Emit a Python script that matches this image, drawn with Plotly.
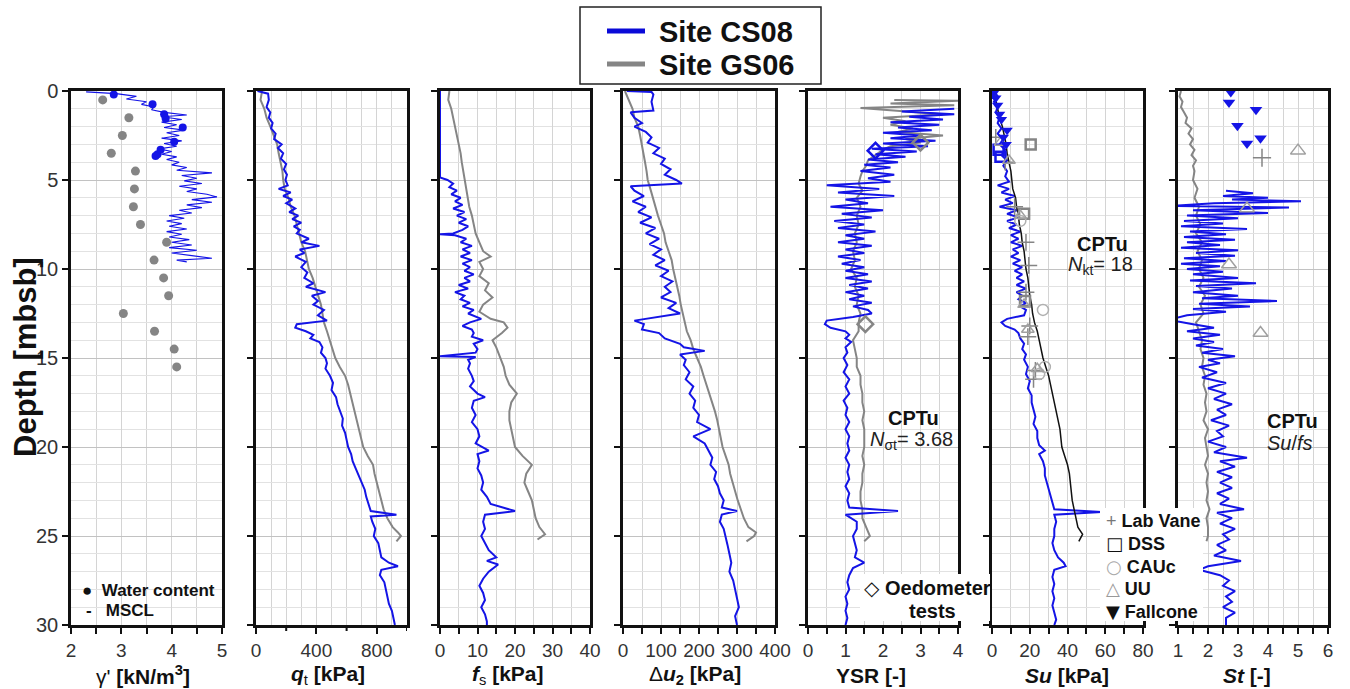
import plotly.graph_objects as go

W, H = 1350, 689
BLUE = "#1414e6"
GRAY = "#858585"
FONT = "Liberation Sans"

# ---------------- data ----------------
# gamma' (MSCL, CS08)
gam_d = [0.05, 0.15, 0.3, 0.45, 0.6, 0.75, 0.9, 1.05, 1.2, 1.35, 1.45, 1.6, 1.75, 1.9, 2.05, 2.2, 2.35, 2.5,
         2.65, 2.8, 2.95, 3.1, 3.25, 3.4, 3.55, 3.7, 3.85, 4.0, 4.15, 4.3, 4.45, 4.6, 4.75, 4.9, 5.05, 5.2,
         5.35, 5.5, 5.65, 5.8, 5.95, 6.1, 6.25, 6.4, 6.55, 6.7, 6.85, 7.0, 7.15, 7.3, 7.45, 7.6, 7.75, 7.9,
         8.05, 8.2, 8.35, 8.5, 8.65, 8.8, 8.95, 9.1, 9.25, 9.4, 9.5, 9.6]
gam_v = [2.3, 2.9, 3.3, 3.1, 3.5, 3.4, 3.65, 3.6, 3.85, 4.3, 3.8, 4.2, 3.8, 4.1, 3.85, 4.25, 3.9, 4.15,
         3.8, 4.2, 3.85, 4.1, 3.75, 4.0, 3.8, 4.1, 3.9, 4.15, 4.0, 4.3, 4.1, 4.8, 4.2, 4.5, 4.25, 4.6,
         4.15, 4.5, 4.3, 4.7, 4.9, 4.4, 4.8, 4.3, 4.6, 4.15, 4.4, 3.95, 4.25, 3.9, 4.2, 3.95, 4.3, 3.9,
         4.2, 3.95, 4.35, 4.0, 4.4, 3.95, 4.5, 4.0, 4.4, 4.8, 4.1, 4.3]
wc_gs_d = [0.5, 1.5, 2.5, 3.5, 4.5, 5.5, 6.5, 7.5, 8.5, 9.5, 10.5, 11.5, 12.5, 13.5, 14.5, 15.5]
wc_gs_v = [2.63, 3.15, 3.02, 2.8, 3.28, 3.26, 3.24, 3.38, 3.9, 3.65, 3.84, 3.94, 3.04, 3.66, 4.05, 4.1]
wc_cs_d = [0.2, 0.75, 1.3, 1.55, 2.05, 2.85, 3.3, 3.55, 3.65]
wc_cs_v = [2.85, 3.62, 3.85, 3.88, 4.22, 4.05, 3.78, 3.72, 3.68]

# q_t
qt_cs_d = [0.0, 0.15, 0.5, 0.9, 1.2, 1.5, 1.8, 2.1, 2.4, 2.7, 3.0, 3.2, 3.5, 3.8, 4.1, 4.4, 4.7, 5.0, 5.3,
           5.5, 5.7, 5.9, 6.1, 6.3, 6.6, 6.8, 7.0, 7.2, 7.4, 7.6, 7.8, 8.0, 8.3, 8.5, 8.7, 8.9, 9.1, 9.3,
           9.6, 9.9, 10.2, 10.5, 10.8, 11.0, 11.3, 11.5, 11.8, 12.0, 12.3, 12.6, 12.9, 13.1, 13.3, 13.5,
           13.7, 13.9, 14.1, 14.4, 14.7, 15.0, 15.3, 15.6, 16.0, 16.4, 16.8, 17.2, 17.6, 18.0, 18.4, 18.8,
           19.2, 19.6, 20.0, 20.4, 20.8, 21.2, 21.6, 22.0, 22.4, 22.8, 23.2, 23.6, 23.8, 23.9, 24.2, 24.6,
           25.0, 25.4, 25.8, 26.2, 26.5, 26.7, 26.9, 27.2, 27.6, 28.0, 28.4, 28.8, 29.2, 29.6, 30.0]
qt_cs_v = [10, 80, 85, 70, 95, 85, 110, 100, 130, 120, 170, 145, 180, 165, 200, 185, 205, 195, 210,
           150, 230, 180, 240, 200, 260, 220, 280, 240, 300, 250, 290, 270, 350, 300, 420, 290, 320, 260,
           330, 300, 340, 320, 380, 330, 460, 370, 410, 380, 450, 410, 470, 270, 260, 330,
           380, 360, 420, 440, 430, 460, 470, 460, 490, 510, 500, 530, 540, 555, 575, 570,
           590, 600, 610, 630, 640, 660, 680, 700, 720, 730, 745, 760, 930, 760, 770, 790,
           780, 810, 820, 830, 880, 940, 830, 820, 850, 860, 870, 880, 900, 910, 920]
qt_gs_d = [0.0, 0.5, 1.0, 1.5, 2.0, 2.5, 3.0, 3.5, 4.0, 4.5, 5.0, 5.5, 6.0, 6.5, 7.0, 7.5, 8.0, 8.5, 9.0,
           9.5, 10.0, 10.5, 11.0, 11.5, 12.0, 12.5, 13.0, 13.5, 14.0, 14.5, 15.0, 15.5, 16.0, 16.5, 17.0,
           17.5, 18.0, 18.5, 19.0, 19.5, 20.0, 20.5, 21.0, 21.5, 22.0, 22.5, 23.0, 23.5, 24.0, 24.5, 24.8,
           25.0, 25.3]
qt_gs_v = [40, 30, 55, 70, 95, 120, 140, 150, 165, 175, 180, 190, 215, 230, 255, 270, 290, 300, 325,
           335, 350, 375, 395, 410, 430, 440, 450, 470, 490, 510, 525, 555, 590, 610, 625,
           640, 655, 670, 685, 700, 710, 740, 775, 785, 800, 815, 830, 845, 870, 905, 940,
           960, 930]

# f_s
fs_cs_d = [0.0, 4.85, 5.0, 5.2, 5.4, 5.6, 5.8, 6.0, 6.2, 6.4, 6.6, 6.8, 7.0, 7.2, 7.4, 7.6, 7.8, 8.0,
           8.05, 8.1, 8.3, 8.5, 8.7, 8.9, 9.1, 9.3, 9.5, 9.7, 9.9, 10.1, 10.3, 10.5, 10.7, 10.9, 11.1,
           11.3, 11.5, 11.7, 11.9, 12.1, 12.3, 12.5, 12.8, 13.0, 13.2, 13.4, 13.6, 13.8, 14.0, 14.2, 14.5,
           14.7, 14.9, 14.95, 15.1, 15.3, 15.6, 16.0, 16.3, 16.6, 17.0, 17.2, 17.4, 17.8, 18.2, 18.6,
           19.0, 19.4, 19.8, 20.2, 20.4, 20.8, 21.2, 21.6, 22.0, 22.4, 22.8, 23.2, 23.6, 23.8, 24.2, 24.6,
           25.0, 25.4, 25.8, 26.2, 26.4, 26.6, 27.0, 27.4, 27.8, 28.2, 28.6, 29.0, 29.4, 29.8, 30.0]
fs_cs_v = [0, 0, 2, 3.5, 2.5, 4.5, 3, 5.5, 4, 6, 3.5, 6.5, 4.5, 7, 5, 7.5, 6, 3.5,
           0, 4, 7, 5.5, 8.5, 6, 8, 5.5, 8.5, 6, 8, 6.5, 9, 6.5, 8, 5, 7.5,
           4, 6.5, 5.5, 8, 6, 9, 7.5, 11, 8, 6, 8.5, 9, 8.5, 11.5, 9, 10,
           9.5, 0, 9.5, 7.5, 8, 7.5, 8.5, 9, 8, 10, 12, 9, 8.5, 9.5, 8.5,
           10, 10.5, 9.5, 13, 10, 10.5, 10, 11, 11.5, 11, 12.5, 13.5, 20, 12, 11.5, 12,
           11, 12, 13, 15, 12.5, 15.5, 13, 11.5, 10.5, 11.5, 12, 11, 12, 12.5, 12.5]
fs_gs_d = [0.0, 0.5, 1.0, 1.5, 2.0, 2.5, 3.0, 3.5, 4.0, 4.5, 5.0, 5.5, 6.0, 6.5, 7.0, 7.5, 8.0, 8.5, 9.0,
           9.3, 9.6, 10.0, 10.4, 10.8, 11.2, 11.6, 12.0, 12.4, 12.8, 13.0, 13.3, 13.6, 14.0, 14.4, 15.0,
           15.5, 16.0, 16.5, 17.0, 17.5, 18.0, 18.5, 19.0, 19.5, 20.0, 20.5, 21.0, 21.5, 22.0, 22.5, 23.0,
           23.5, 24.0, 24.5, 24.9, 25.2]
fs_gs_v = [2.5, 2.2, 3.0, 3.5, 4.0, 4.5, 5.0, 5.5, 5.8, 6.2, 6.5, 7.0, 7.3, 7.8, 8.5, 9.0, 9.5, 10.5, 11.5,
           13.5, 10.5, 11.5, 10.5, 13, 12, 14, 11.5, 10.5, 13.5, 17, 18, 16.5, 14, 15, 16,
           17, 17.5, 18.5, 20.5, 19, 18.5, 18.5, 19, 19.5, 20, 22, 24.5, 23, 22.5, 23.5, 24.5,
           25, 25.5, 26.5, 28, 26]

# delta u2
du_cs_d = [0.0, 0.05, 0.2, 0.6, 1.1, 1.2, 1.5, 1.8, 2.0, 2.3, 2.6, 2.9, 3.2, 3.5, 3.8, 4.1, 4.4, 4.7, 5.0,
           5.2, 5.35, 5.6, 5.9, 6.2, 6.5, 6.8, 7.1, 7.4, 7.7, 8.0, 8.3, 8.6, 8.9, 9.2, 9.5, 9.8, 10.1,
           10.4, 10.7, 11.0, 11.3, 11.6, 11.9, 12.2, 12.5, 12.7, 12.9, 13.1, 13.4, 13.6, 13.9, 14.2, 14.4,
           14.6, 14.8, 15.1, 15.4, 15.8, 16.2, 16.6, 17.0, 17.4, 17.8, 18.2, 18.6, 19.0, 19.4, 19.8, 20.2,
           20.6, 21.0, 21.4, 21.8, 22.2, 22.6, 23.0, 23.4, 23.6, 23.8, 24.2, 24.6, 25.0, 25.5, 26.0, 26.5,
           27.0, 27.5, 28.0, 28.5, 29.0, 29.5, 30.0]
du_cs_v = [10, 75, 80, 75, 80, 20, 30, 50, 30, 60, 75, 65, 95, 80, 110, 100, 125, 110, 140,
           155, 20, 30, 55, 25, 60, 40, 75, 45, 85, 60, 95, 70, 100, 80, 110, 85, 120,
           100, 130, 110, 125, 100, 140, 120, 150, 90, 30, 55, 50, 95, 110, 150, 160,
           215, 150, 165, 160, 175, 165, 185, 175, 190, 185, 200, 195, 230, 185, 215, 225,
           235, 230, 245, 240, 250, 255, 265, 260, 300, 260, 255, 265, 270, 275, 280, 285,
           280, 290, 295, 300, 305, 295, 300]
du_gs_d = [0.0, 0.5, 1.0, 1.5, 2.0, 2.5, 3.0, 3.5, 4.0, 4.5, 5.0, 5.5, 6.0, 6.5, 7.0, 7.5, 8.0, 8.5, 9.0,
           9.5, 10.0, 10.5, 11.0, 11.5, 12.0, 12.5, 13.0, 13.5, 14.0, 14.5, 15.0, 15.5, 16.0, 16.5, 17.0,
           17.5, 18.0, 18.5, 19.0, 19.5, 20.0, 20.5, 21.0, 21.5, 22.0, 22.5, 23.0, 23.5, 24.0, 24.5, 24.8,
           25.0, 25.3]
du_gs_v = [5, 15, 25, 30, 40, 45, 50, 55, 58, 62, 65, 72, 78, 85, 92, 100, 108, 112, 120,
           128, 132, 138, 142, 148, 152, 158, 162, 168, 178, 185, 195, 205, 212, 220, 228,
           235, 242, 248, 252, 258, 262, 270, 278, 282, 288, 295, 302, 310, 318, 330, 350,
           345, 325]

# YSR
ysr_cs_d = [1.0, 1.15, 1.3, 1.45, 1.6, 1.75, 1.9, 2.05, 2.2, 2.35, 2.5, 2.65, 2.8, 2.95, 3.1, 3.25, 3.4,
            3.55, 3.7, 3.85, 4.0, 4.15, 4.3, 4.5, 4.7, 4.9, 5.1, 5.3, 5.5, 5.7, 5.9, 6.1, 6.3, 6.5, 6.7,
            6.9, 7.1, 7.3, 7.5, 7.7, 7.9, 8.1, 8.3, 8.5, 8.7, 8.9, 9.1, 9.3, 9.5, 9.7, 9.9, 10.1, 10.3,
            10.5, 10.7, 10.9, 11.1, 11.3, 11.5, 11.7, 11.9, 12.1, 12.3, 12.5, 12.7, 12.9, 13.1, 13.3, 13.5,
            13.7, 13.9, 14.1, 14.4, 14.7, 15.0, 15.4, 15.8, 16.2, 16.6, 17.0, 17.4, 17.8, 18.2, 18.6, 19.0,
            19.4, 19.8, 20.2, 20.6, 21.0, 21.4, 21.8, 22.2, 22.6, 23.0, 23.4, 23.6, 23.8, 24.2, 24.6, 25.0,
            25.4, 25.8, 26.2, 26.5, 26.8, 27.2, 27.6, 28.0, 28.4, 28.8, 29.2, 29.6, 30.0]
ysr_cs_v = [3.9, 2.5, 3.9, 2.7, 3.6, 2.2, 3.5, 2.4, 3.3, 2.0, 3.0, 2.2, 3.4, 2.0, 3.2, 1.7, 2.9,
            1.8, 2.6, 1.6, 2.4, 1.5, 2.2, 1.4, 2.3, 1.6, 2.2, 0.5, 1.9, 0.8, 2.3, 1.0, 1.6, 0.6, 2.0,
            0.9, 1.7, 0.7, 1.5, 0.8, 1.8, 1.0, 1.5, 0.8, 1.7, 1.0, 1.5, 0.8, 1.4, 0.9, 1.5, 1.0, 1.6,
            1.0, 1.7, 1.1, 1.6, 1.0, 1.5, 1.1, 1.7, 1.2, 1.6, 1.7, 1.2, 0.5, 0.45, 0.6, 1.0,
            1.1, 1.0, 1.15, 1.0, 1.05, 0.95, 1.05, 0.95, 1.1, 1.0, 1.1, 0.95, 1.05, 1.0, 1.1, 1.0,
            1.1, 1.05, 1.1, 1.0, 1.1, 1.05, 1.1, 1.0, 1.1, 1.05, 1.1, 2.4, 1.0, 1.3, 1.3, 1.2,
            1.25, 1.3, 1.25, 1.5, 1.2, 1.1, 1.05, 1.1, 1.0, 1.05, 1.0, 1.05, 1.0]
ysr_gs_d = [0.5, 0.55, 0.7, 0.8, 0.95, 1.1, 1.3, 1.5, 1.7, 1.9, 2.1, 2.3, 2.5, 2.7, 2.9, 3.1, 3.3, 3.6,
            3.9, 4.2, 4.5, 4.8, 5.2, 5.6, 6.0, 6.5, 7.0, 7.5, 8.0, 8.5, 9.0, 9.5, 10.0, 10.5, 11.0, 11.5,
            12.0, 12.5, 13.0, 13.5, 14.0, 14.5, 15.0, 15.5, 16.0, 16.5, 17.0, 17.5, 18.0, 18.5, 19.0, 19.5,
            20.0, 20.5, 21.0, 21.5, 22.0, 22.5, 23.0, 23.5, 24.0, 24.5, 25.0, 25.3]
ysr_gs_v = [2.3, 4.0, 2.2, 3.9, 1.4, 2.3, 3.6, 2.0, 2.6, 2.2, 2.8, 2.4, 3.6, 2.6, 3.0, 2.2, 2.0, 1.8,
            1.6, 1.55, 1.45, 1.4, 1.35, 1.45, 1.3, 1.4, 1.3, 1.35, 1.25, 1.3, 1.2, 1.25, 1.15, 1.3, 1.25, 1.35,
            1.3, 1.4, 1.35, 1.35, 1.2, 1.25, 1.3, 1.3, 1.4, 1.4, 1.45, 1.45, 1.5, 1.45, 1.5, 1.5,
            1.5, 1.45, 1.5, 1.45, 1.45, 1.4, 1.4, 1.45, 1.45, 1.55, 1.65, 1.5]
oed_cs_d = [3.35]
oed_cs_v = [1.8]
oed_gs_d = [2.9, 13.1]
oed_gs_v = [3.0, 1.53]

# Su
su_cs_d = [0.0, 0.3, 0.6, 0.9, 1.2, 1.5, 1.8, 2.1, 2.4, 2.7, 3.0, 3.3, 3.6, 3.9, 4.2, 4.5, 4.8, 5.1, 5.3,
           5.5, 5.7, 5.9, 6.1, 6.3, 6.5, 6.7, 6.9, 7.1, 7.3, 7.5, 7.7, 7.9, 8.1, 8.3, 8.5, 8.7, 8.9, 9.1,
           9.3, 9.5, 9.7, 9.9, 10.1, 10.3, 10.5, 10.7, 10.9, 11.1, 11.3, 11.5, 11.7, 11.9, 12.1, 12.3, 12.6,
           12.8, 13.0, 13.2, 13.4, 13.6, 13.9, 14.2, 14.5, 14.8, 15.1, 15.5, 15.9, 16.3, 16.7, 17.1, 17.5,
           17.9, 18.3, 18.7, 19.1, 19.5, 19.9, 20.2, 20.4, 20.8, 21.2, 21.6, 22.0, 22.4, 22.8, 23.2, 23.5,
           23.65, 23.8, 24.2, 24.6, 25.0, 25.4, 25.8, 26.2, 26.5, 26.7, 26.9, 27.3, 27.7, 28.1, 28.5, 28.9,
           29.3, 29.7, 30.0]
su_cs_v = [1, 3, 1, 3, 2, 4, 3, 5, 3, 6, 4, 7, 5, 8, 6, 8, 7, 9, 3,
           9, 5, 12, 7, 11, 4, 13, 8, 14, 8, 13, 9, 15, 10, 14, 10, 16, 11, 14,
           10, 15, 11, 16, 12, 16, 13, 17, 13, 18, 13, 16, 14, 18, 15, 18, 17,
           8, 5, 7, 12, 14, 15, 17, 16, 18, 17, 19, 18, 20, 19, 21, 21,
           22, 23, 22, 24, 24, 25, 28, 25, 27, 28, 28, 29, 30, 31, 32, 33,
           58, 33, 34, 33, 33, 32, 33, 35, 38, 39, 33, 32, 33, 32, 33, 32,
           33, 34, 33]
su_gs_d = [0.0, 0.5, 1.0, 1.5, 2.0, 2.5, 3.0, 3.5, 4.0, 4.5, 5.0, 5.5, 6.0, 6.5, 7.0, 7.5, 8.0, 8.5, 9.0,
           9.5, 10.0, 10.5, 11.0, 11.5, 12.0, 12.5, 13.0, 13.5, 14.0, 14.5, 15.0, 15.5, 16.0, 16.5, 17.0,
           17.5, 18.0, 18.5, 19.0, 19.5, 20.0, 20.5, 21.0, 21.5, 22.0, 22.5, 23.0, 23.5, 24.0, 24.5, 24.9,
           25.3]
su_gs_v = [1, 2, 3, 4, 5.5, 6.5, 7.5, 8, 9, 10, 10.5, 11, 12.5, 13, 14, 14.5, 15.5, 16, 17,
           17.5, 18, 19, 19.5, 20, 21, 21.5, 22.5, 24, 25, 26, 27, 28.5, 30, 31, 32,
           33, 34, 35, 36, 36.5, 37, 38.5, 40, 41, 41.5, 42, 42.5, 43.5, 44.5, 45.5, 48,
           46]
vane_su_d = [2.6, 4.0, 6.5, 8.5, 9.8, 11.3, 13.2, 13.8, 15.7, 16.2]
vane_su_v = [2, 7, 12, 18, 19.5, 18, 20, 19, 23, 22]
dss_gs_d = [3.0, 6.9, 11.8]
dss_gs_v = [20.5, 17, 17.5]
dss_cs_d = [3.3, 3.7]
dss_cs_v = [3.5, 4.5]
cauc_d = [7.3, 12.3, 15.5, 15.9]
cauc_v = [15, 27, 28, 25]
uu_su_d = [2.9, 3.9, 7.0, 12.0, 13.4, 15.6]
uu_su_v = [4.5, 9, 15, 17, 19, 24]
fall_su_d = [0.1, 0.4, 0.8, 1.3, 1.6, 2.2, 2.6, 3.0]
fall_su_v = [1, 2, 3, 4, 5, 8, 6, 7.5]

# St
st_cs_d = [5.6, 5.75, 5.9, 6.0, 6.1, 6.2, 6.3, 6.45, 6.55, 6.7, 6.85, 7.0, 7.15, 7.3, 7.45, 7.6, 7.75, 7.9,
           8.05, 8.2, 8.35, 8.5, 8.65, 8.8, 8.95, 9.1, 9.25, 9.4, 9.55, 9.7, 9.85, 10.0, 10.15, 10.3, 10.5,
           10.65, 10.8, 10.95, 11.1, 11.3, 11.5, 11.65, 11.8, 11.95, 12.1, 12.25, 12.4, 12.6, 12.8, 12.95,
           13.1, 13.3, 13.5, 13.7, 13.9, 14.1, 14.3, 14.5, 14.7, 14.9, 15.1, 15.3, 15.5, 15.8, 16.1, 16.4,
           16.7, 17.0, 17.3, 17.6, 17.9, 18.2, 18.5, 18.8, 19.1, 19.4, 19.7, 20.0, 20.3, 20.6, 20.8, 21.1,
           21.4, 21.7, 22.0, 22.3, 22.6, 22.9, 23.2, 23.5, 23.7, 24.0, 24.3, 24.6, 24.9, 25.2, 25.5, 25.8,
           26.1, 26.4, 26.7, 26.9, 27.2, 27.5, 27.8, 28.1, 28.4, 28.7, 29.0, 29.3, 29.6, 30.0]
st_cs_v = [2.6, 3.5, 2.5, 4.0, 2.8, 5.1, 2.2, 0.85, 4.7, 1.5, 4.0, 1.3, 3.0, 1.2, 2.5, 1.1, 3.3, 1.4,
           2.6, 1.2, 2.9, 1.3, 2.4, 1.1, 3.0, 1.6, 2.9, 1.2, 2.6, 1.1, 2.4, 1.3, 2.5, 1.5, 3.0,
           1.4, 3.6, 1.6, 2.8, 1.5, 3.0, 1.8, 4.3, 1.7, 3.4, 1.5, 2.6, 1.3, 0.8, 1.0,
           1.5, 2.2, 1.3, 2.4, 1.5, 2.2, 1.6, 2.5, 1.8, 2.9, 2.0, 2.4, 1.7, 2.3, 1.8, 2.6,
           2.0, 2.6, 2.2, 2.8, 2.3, 2.6, 2.1, 2.7, 2.3, 2.5, 2.0, 2.6, 2.2, 3.3, 2.4, 2.9,
           2.3, 2.8, 2.4, 2.8, 2.3, 2.7, 2.4, 3.2, 2.3, 2.8, 2.4, 2.9, 2.5, 2.7, 2.3, 2.6,
           2.2, 3.1, 2.0, 1.7, 2.4, 2.7, 2.5, 2.9, 2.6, 2.8, 2.5, 2.9, 2.6, 2.6]
st_gs_d = [0.0, 0.3, 0.6, 0.9, 1.2, 1.5, 1.8, 2.1, 2.4, 2.7, 3.0, 3.3, 3.6, 3.9, 4.2, 4.5, 5.0, 5.5, 6.0,
           6.5, 7.0, 7.5, 8.0, 8.5, 9.0, 9.5, 10.0, 10.5, 11.0, 11.5, 12.0, 12.5, 13.0, 13.5, 14.0, 14.5,
           15.0, 15.5, 16.0, 16.5, 17.0, 17.5, 18.0, 18.5, 19.0, 19.5, 20.0, 20.5, 21.0, 21.5, 22.0, 22.5,
           23.0, 23.5, 24.0, 24.5, 25.0, 25.3]
st_gs_v = [1.1, 1.05, 1.15, 1.1, 1.2, 1.3, 1.25, 1.45, 1.35, 1.5, 1.4, 1.55, 1.45, 1.6, 1.5, 1.55, 1.5, 1.65, 1.55,
           1.7, 1.6, 1.75, 1.6, 1.8, 1.65, 1.8, 1.7, 1.85, 1.7, 1.9, 1.75, 1.85, 1.6, 1.7, 1.8, 1.75,
           1.85, 1.8, 1.9, 1.85, 1.95, 1.9, 1.95, 1.85, 2.0, 1.9, 1.95, 2.0, 1.9, 2.0, 1.95, 2.0,
           1.95, 2.05, 1.95, 2.0, 2.0, 1.95]
fall_st_d = [0.05, 0.65, 1.05, 1.95, 2.65, 2.95]
fall_st_v = [2.76, 2.7, 3.6, 2.98, 3.75, 3.3]
vane_st_d = [3.75]
vane_st_v = [3.8]
uu_st_d = [3.35, 6.6, 9.75, 13.6]
uu_st_v = [5.0, 3.3, 2.7, 3.75]

# axis ticks (labelled major ticks, minor tick/grid spacing)
x_ranges = [[2, 5], [0, 1000], [0, 40], [0, 400], [0, 4], [0, 80], [1, 6]]
x_major = [[2, 3, 4, 5], [0, 400, 800], [0, 10, 20, 30, 40], [0, 100, 200, 300, 400],
           [0, 1, 2, 3, 4], [0, 20, 40, 60, 80], [1, 2, 3, 4, 5, 6]]
x_minor = [0.5, 100, 5, 50, 0.5, 10, 0.5]
x_minor_ticks = [True, False, True, True, True, True, True]
qt_extra_ticks = [200, 600, 1000]

# ---------------- layout ----------------
panels = [(71, 222), (256, 407), (440, 590), (623, 775), (808, 958), (992, 1143), (1178, 1328)]
YTOP, YBOT = 91, 625
ydom = [1 - YBOT / H, 1 - YTOP / H]
LINEC = "#111111"
GRIDC = "#d4d4d4"

fig = go.Figure()


def ax(i):
    return ("x" if i == 1 else f"x{i}"), ("y" if i == 1 else f"y{i}")


def line(i, d, v, color, width=2):
    xa, ya = ax(i)
    fig.add_trace(go.Scatter(x=v, y=d, mode="lines", line=dict(color=color, width=width),
                             xaxis=xa, yaxis=ya, showlegend=False, hoverinfo="skip"))


def pts(i, d, v, symbol, color, size, lw=1.5, fill=None):
    xa, ya = ax(i)
    fig.add_trace(go.Scatter(x=v, y=d, mode="markers",
                             marker=dict(symbol=symbol, size=size, color=fill if fill else color,
                                         line=dict(color=color, width=lw)),
                             xaxis=xa, yaxis=ya, showlegend=False, hoverinfo="skip"))


line(1, gam_d, gam_v, BLUE, 1.1)
pts(1, wc_gs_d, wc_gs_v, "circle", GRAY, 9, 0)
pts(1, wc_cs_d, wc_cs_v, "circle", BLUE, 8, 0)
line(2, qt_gs_d, qt_gs_v, GRAY)
line(2, qt_cs_d, qt_cs_v, BLUE)
line(3, fs_gs_d, fs_gs_v, GRAY)
line(3, fs_cs_d, fs_cs_v, BLUE)
line(4, du_gs_d, du_gs_v, GRAY)
line(4, du_cs_d, du_cs_v, BLUE)
line(5, ysr_gs_d, ysr_gs_v, GRAY)
line(5, ysr_cs_d, ysr_cs_v, BLUE)
pts(5, oed_gs_d, oed_gs_v, "diamond-open", GRAY, 12, 2.5)
pts(5, oed_cs_d, oed_cs_v, "diamond-open", BLUE, 12, 2.5)
line(6, su_cs_d, su_cs_v, BLUE)
line(6, su_gs_d, su_gs_v, "#111111", 1.5)
pts(6, vane_su_d, vane_su_v, "cross-thin-open", GRAY, 12, 1.5)
pts(6, dss_gs_d, dss_gs_v, "square-open", GRAY, 10, 2.5)
pts(6, dss_cs_d, dss_cs_v, "square-open", BLUE, 10, 2.5)
pts(6, cauc_d, cauc_v, "circle-open", "#b0b0b0", 11, 1.5)
pts(6, uu_su_d, uu_su_v, "triangle-up-open", "#a0a0a0", 11, 1.5)
pts(6, fall_su_d, fall_su_v, "triangle-down", BLUE, 10, 0)
line(7, st_gs_d, st_gs_v, GRAY)
line(7, st_cs_d, st_cs_v, BLUE)
pts(7, fall_st_d, fall_st_v, "triangle-down", BLUE, 11, 0)
pts(7, vane_st_d, vane_st_v, "cross-thin-open", GRAY, 13, 1.5)
pts(7, uu_st_d, uu_st_v, "triangle-up-open", "#a0a0a0", 13, 1.5)

layout = dict(
    width=W, height=H, margin=dict(l=0, r=0, t=0, b=0, autoexpand=False),
    paper_bgcolor="white", plot_bgcolor="white",
    font=dict(family=FONT, color="#222222"),
    showlegend=False,
)

for i, (l, r) in enumerate(panels, start=1):
    xa, ya = ax(i)
    xkey = "xaxis" if i == 1 else f"xaxis{i}"
    ykey = "yaxis" if i == 1 else f"yaxis{i}"
    rng = x_ranges[i - 1]
    minor = dict(tickmode="linear", tick0=rng[0], dtick=x_minor[i - 1], showgrid=True,
                 gridcolor=GRIDC, gridwidth=1)
    if x_minor_ticks[i - 1]:
        minor.update(ticks="outside", ticklen=6, tickwidth=2, tickcolor=LINEC)
    else:
        minor.update(ticks="")
    layout[xkey] = dict(domain=[l / W, r / W], range=rng, anchor=ya,
                        tickmode="array", tickvals=x_major[i - 1],
                        showline=True, mirror=True, linecolor=LINEC, linewidth=2.5,
                        ticks="outside", ticklen=6, tickwidth=2, tickcolor=LINEC,
                        showgrid=True, gridcolor=GRIDC, gridwidth=1, zeroline=False,
                        tickfont=dict(size=19, family=FONT, color="#333333"),
                        minor=minor)
    layout[ykey] = dict(domain=ydom, range=[30, 0], anchor=xa,
                        tickmode="linear", tick0=0, dtick=5,
                        showline=True, mirror=True, linecolor=LINEC, linewidth=2.5,
                        ticks="outside", ticklen=6, tickwidth=2, tickcolor=LINEC,
                        showgrid=True, gridcolor="#c2c2c2", gridwidth=1, zeroline=False,
                        showticklabels=(i == 1),
                        tickfont=dict(size=20, family=FONT, color="#333333"),
                        minor=dict(tickmode="linear", tick0=0, dtick=1, showgrid=True,
                                   gridcolor="#e2e2e2", gridwidth=1, ticks=""))

fig.update_layout(**layout)


def px(x):
    return x / W


def py(y):
    return 1 - y / H


# extra qt ticks at 200/600/1000
for v in qt_extra_ticks:
    fig.add_shape(type="line", xref="x2", yref="paper", x0=v, x1=v, y0=py(YBOT), y1=py(YBOT + 6),
                  line=dict(color=LINEC, width=2))

# white patches behind in-plot legends
fig.add_shape(type="rect", xref="paper", yref="paper", x0=px(860), x1=px(990), y0=py(621), y1=py(574),
              fillcolor="white", line=dict(width=0), layer="above")
fig.add_shape(type="rect", xref="paper", yref="paper", x0=px(1100), x1=px(1203), y0=py(621), y1=py(508),
              fillcolor="white", line=dict(width=0), layer="above")

# main legend (box + line samples)
fig.add_shape(type="rect", xref="paper", yref="paper", x0=px(580), x1=px(821), y0=py(84), y1=py(7),
              fillcolor="white", line=dict(color="#222222", width=1.5), layer="above")
fig.add_shape(type="line", xref="paper", yref="paper", x0=px(607), x1=px(645), y0=py(31), y1=py(31),
              line=dict(color="#0a0ad8", width=5), layer="above")
fig.add_shape(type="line", xref="paper", yref="paper", x0=px(607), x1=px(645), y0=py(64), y1=py(64),
              line=dict(color=GRAY, width=5), layer="above")

ann = []


def text(x, y, t, size=19, xanchor="center", color="#111111", textangle=0):
    ann.append(dict(x=px(x), y=py(y), xref="paper", yref="paper", text=t, showarrow=False,
                    xanchor=xanchor, yanchor="middle", font=dict(size=size, family=FONT, color=color),
                    textangle=textangle))


text(657, 32, "<b>Site CS08</b>", 29, xanchor="left")
text(657, 65, "<b>Site GS06</b>", 29, xanchor="left")

# axis titles
TY = 675
text(143, TY, "γ'<b> [kN/m<sup>3</sup>]</b>", 21)
text(328, TY, "<b><i>q</i></b><sub>t</sub><b> [kPa]</b>", 21)
text(508, TY, "<b><i>f</i></b><sub>s</sub><b> [kPa]</b>", 21)
text(695, TY, "Δ<b><i>u</i><sub>2</sub> [kPa]</b>", 21)
text(871, TY, "<b>YSR [-]</b>", 21)
text(1067, TY, "<b><i>Su</i> [kPa]</b>", 21)
text(1247, TY, "<b><i>St</i> [-]</b>", 21)
text(25, 357, "<b>Depth [mbsb]</b>", 31, textangle=-90)

# in-panel annotations
text(913, 418, "<b>CPTu</b>", 20)
text(911, 440, "<i>N</i><sub>σt</sub>= 3.68", 20, color="#222222")
text(1102, 244, "<b>CPTu</b>", 20)
text(1100, 266, "<i>N</i><sub>kt</sub>= 18", 20, color="#222222")
text(1292, 421, "<b>CPTu</b>", 20)
text(1290, 443, "<i>Su</i>/<i>fs</i>", 20, color="#222222")

# gamma legend
text(80, 590, "<b>●  Water content</b>", 17, xanchor="left")
text(84, 610, "<b>-   MSCL</b>", 17, xanchor="left")

text(862, 588, "<b><span style='font-family:DejaVu Sans'>◇</span> Oedometer</b>", 20, xanchor="left")
text(958, 611, "<b>tests</b>", 20, xanchor="right")

LX = 1104
text(LX, 521, "<span style='color:#777777'>+</span> <b>Lab Vane</b>", 18, xanchor="left")
text(LX, 543, "<b><span style='font-family:DejaVu Sans'>□</span> DSS</b>", 18, xanchor="left")
text(LX, 566, "<span style='color:#aaaaaa;font-family:DejaVu Sans'>○</span> <b>CAUc</b>", 18, xanchor="left")
text(LX, 588, "<span style='color:#999999;font-family:DejaVu Sans'>△</span> <b>UU</b>", 18, xanchor="left")
text(LX, 611, "<span style='font-family:DejaVu Sans'>▼</span> <b>Fallcone</b>", 18, xanchor="left")

fig.update_layout(annotations=ann)
fig.write_html("out.html")
